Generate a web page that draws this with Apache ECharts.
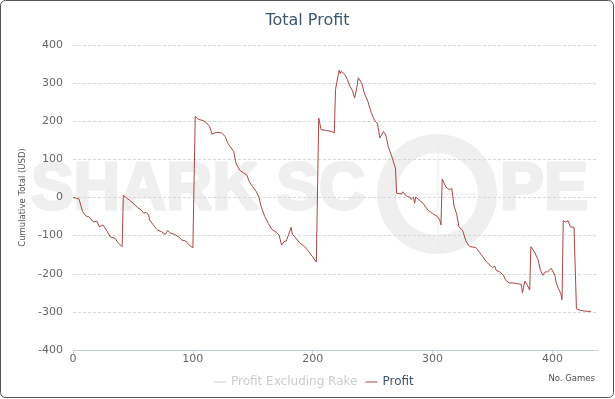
<!DOCTYPE html>
<html>
<head>
<meta charset="utf-8">
<script src="https://cdn.jsdelivr.net/npm/echarts@6/dist/echarts.min.js"></script>
<style>
  html, body { margin: 0; padding: 0; background: #fff; }
  #chart { width: 615px; height: 399px; }
</style>
</head>
<body>
<div id="chart"></div>
<script>
// game number / cumulative profit (USD)
const games = [
  0, 3, 5, 6, 8, 11, 13, 17, 20, 22, 25, 28, 31, 35, 38, 41,
  42, 45, 47, 51, 54, 57, 59, 61, 63, 64, 67, 70, 74, 77, 79, 81, 85, 88, 91, 94, 97, 100, 101,
  102, 104, 109, 111, 114, 116, 118, 121, 124, 127, 129, 131, 134, 136, 139, 142, 145, 147, 150,
  153, 155, 157, 160, 163, 166, 170, 172, 174, 176, 178, 180, 182, 183, 185, 189, 193, 197, 200, 203, 204,
  205, 207, 211, 216, 218, 219, 220, 222, 223, 224, 227, 229, 231, 233, 235, 237, 238, 241, 243,
  246, 249, 252, 254, 256, 259, 261, 263, 266, 269, 270, 274, 275, 278, 281, 282, 284, 285, 286,
  289, 292, 296, 300, 304, 306, 307,
  308, 311, 314, 316, 318, 320, 322, 325, 328, 331, 336, 339, 342, 345, 348, 350, 352, 353, 356,
  359, 361, 364, 367, 368, 371, 374, 375, 377, 379, 381,
  382, 385, 388, 390, 392, 394, 396, 399, 400, 402, 403, 405, 407, 408,
  409, 411, 413, 415, 418, 419, 420, 423, 427, 432
];
const profit = [
  0, -2, -4, -6, -37, -49, -50, -64, -62, -77, -72, -86, -103, -107, -120, -129,
  6, -2, -7, -17, -27, -33, -41, -39, -46, -59, -72, -84, -90, -97, -86, -93, -97, -103, -112, -114, -125, -132, -134,
  213, 206, 201, 197, 186, 166, 169, 171, 169, 160, 143, 134, 121, 90, 72, 65, 59, 42, 28,
  15, 2, -24, -50, -68, -84, -92, -99, -125, -116, -114, -96, -78, -96, -103, -119, -128, -143, -156, -169, -172,
  208, 178, 176, 173, 169, 283, 281, 334, 325, 331, 322, 309, 292, 281, 261, 292, 314, 299, 274,
  252, 221, 200, 195, 156, 173, 164, 134, 107, 77, 11, 9, 15, 4, 1, -5, 1, -15, 1,
  -7, -15, -33, -42, -50, -59, -72,
  48, 28, 20, 24, -24, -42, -77, -86, -116, -129, -131, -143, -156, -169, -178, -184, -180, -191, -195,
  -204, -217, -224, -224, -220, -226, -228, -250, -219, -230, -243,
  -129, -143, -163, -191, -204, -195, -195, -186, -191, -204, -222, -239, -252, -268,
  -61, -64, -61, -77, -78, -81, -292, -296, -298, -299
];
const seriesNames = ['Profit Excluding Rake', 'Profit'];
const seriesColors = ['#4572A7', '#AA4643'];

const font = 'DejaVu Sans';
const wmColor = '#efefef';
const chart = echarts.init(document.getElementById('chart'));

const option = {
  animation: false,
  color: seriesColors,
  title: {
    text: 'Total Profit',
    left: 'center',
    top: 8,
    textStyle: { color: '#3E576F', fontSize: 16, fontWeight: 'normal', fontFamily: font },
  },
  legend: {
    data: seriesNames,
    left: 209,
    top: 371,
    icon: 'rect',
    itemWidth: 12,
    itemHeight: 1,
    itemGap: 8,
    inactiveColor: '#cccccc',
    selected: { 'Profit Excluding Rake': false },
    textStyle: { color: '#3E576F', fontSize: 12, fontFamily: font },
  },
  grid: { left: 73, right: 17, top: 45, bottom: 49 },
  xAxis: {
    type: 'value',
    min: 0,
    max: 438,
    interval: 100,
    name: 'No. Games',
    nameLocation: 'end',
    nameGap: -3,
    nameTextStyle: {
      align: 'right', verticalAlign: 'top', padding: [24, 0, 0, 0],
      color: '#4d4d4d', fontSize: 8.5, fontFamily: font,
    },
    axisLine: { onZero: false, lineStyle: { color: '#C0D0E0' } },
    axisTick: { show: true, length: 5, lineStyle: { color: '#C0D0E0' } },
    axisLabel: { color: '#666', fontSize: 11, fontFamily: font, margin: 4, showMaxLabel: false },
    splitLine: { show: false },
  },
  yAxis: {
    type: 'value',
    min: -400,
    max: 400,
    interval: 100,
    name: 'Cumulative Total (USD)',
    nameLocation: 'middle',
    nameRotate: 90,
    nameGap: 46,
    nameTextStyle: { color: '#555', fontSize: 8.5, fontFamily: font },
    axisLine: { show: false },
    axisTick: { show: false },
    axisLabel: { color: '#666', fontSize: 11, fontFamily: font, margin: 10 },
    splitLine: { lineStyle: { color: '#d8d8d8', type: [3, 2] } },
  },
  graphic: [
    {
      type: 'rect', z: -20, silent: true,
      shape: { x: 0.5, y: 0.5, width: 613, height: 397, r: 5 },
      style: { fill: '#fff', stroke: '#555', lineWidth: 1 },
    },
    {
      type: 'text', z: -10, silent: true, x: 31, y: 191, scaleX: 0.97,
      style: {
        text: 'SHARK SC', fill: wmColor, stroke: wmColor, lineWidth: 3,
        font: 'bold 66px "Liberation Sans"', verticalAlign: 'middle',
      },
    },
    {
      type: 'text', z: -10, silent: true, x: 500, y: 191, scaleX: 1,
      style: {
        text: 'PE', fill: wmColor, stroke: wmColor, lineWidth: 3,
        font: 'bold 66px "Liberation Sans"', verticalAlign: 'middle',
      },
    },
    {
      type: 'ring', z: -10, silent: true,
      shape: { cx: 437, cy: 194, r: 60, r0: 41 },
      style: { fill: wmColor },
    },
    {
      type: 'line', z: -10, silent: true,
      shape: { x1: 438, y1: 140, x2: 438, y2: 250 },
      style: { stroke: '#eaeaea', lineWidth: 1 },
    },
    {
      type: 'line', z: -10, silent: true,
      shape: { x1: 400, y1: 194, x2: 476, y2: 194 },
      style: { stroke: '#eaeaea', lineWidth: 1 },
    },
  ],
  series: [
    {
      name: seriesNames[0],
      type: 'line',
      data: [],
      showSymbol: false,
    },
    {
      name: seriesNames[1],
      type: 'line',
      data: games.map((g, i) => [g, profit[i]]),
      showSymbol: false,
      symbol: 'none',
      lineStyle: { width: 1, color: seriesColors[1] },
    },
  ],
};
chart.setOption(option);
</script>
</body>
</html>
